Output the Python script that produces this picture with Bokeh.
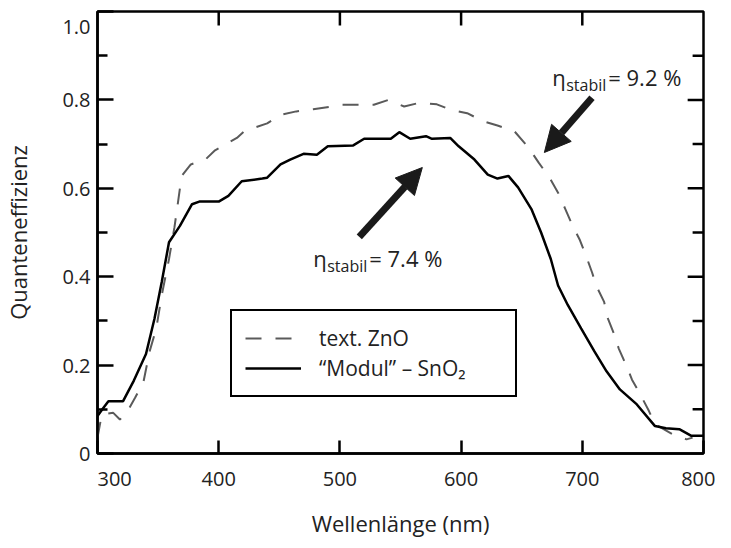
from bokeh.plotting import figure
from bokeh.models import Range1d, FixedTicker, Legend, LegendItem, Arrow, NormalHead
from bokeh.core.properties import value
from bokeh.embed import file_html
from bokeh.resources import INLINE

FONT = "Open Sans"
TXT = "#222222"

# "Modul" - SnO2 (solid)
wl_modul = [300, 304, 309, 321, 330, 340, 347, 353, 359, 368, 378, 384, 400, 408, 419, 436,
            440, 451, 459, 470, 481, 490, 511, 520, 542, 549, 558, 571, 576, 591, 598, 611,
            622, 630, 639, 647, 658, 666, 674, 680, 688, 699, 710, 720, 731, 745, 760, 769,
            780, 790, 800]
qe_modul = [0.085, 0.100, 0.118, 0.118, 0.165, 0.225, 0.305, 0.388, 0.478, 0.515, 0.564, 0.570,
            0.570, 0.583, 0.616, 0.622, 0.624, 0.654, 0.665, 0.678, 0.676, 0.695, 0.697, 0.712,
            0.712, 0.727, 0.712, 0.718, 0.712, 0.714, 0.695, 0.665, 0.631, 0.622, 0.628, 0.602,
            0.553, 0.500, 0.440, 0.380, 0.336, 0.283, 0.231, 0.186, 0.145, 0.111, 0.062, 0.057,
            0.055, 0.040, 0.040]

# text. ZnO (dashed)
wl_zno = [300, 303.5, 313, 318.5, 324, 331, 338, 343, 348.5, 353, 359, 363.5, 366, 368, 370,
          377, 389, 397, 415, 421, 440, 451, 464, 478, 491, 502, 528, 540, 553, 565, 580, 591,
          605, 618, 630, 644, 656, 664, 673, 680, 686, 692, 698, 703, 708, 712, 718, 721, 726,
          730, 736, 741, 748, 755, 760, 775, 786, 791]
qe_zno = [0.036, 0.088, 0.092, 0.077, 0.092, 0.126, 0.163, 0.231, 0.283, 0.358, 0.440, 0.512,
          0.560, 0.600, 0.630, 0.654, 0.665, 0.686, 0.714, 0.729, 0.747, 0.766, 0.774, 0.779,
          0.784, 0.789, 0.789, 0.800, 0.785, 0.793, 0.790, 0.778, 0.770, 0.752, 0.742, 0.729,
          0.691, 0.658, 0.624, 0.590, 0.553, 0.515, 0.483, 0.448, 0.410, 0.377, 0.343, 0.306,
          0.272, 0.238, 0.201, 0.167, 0.133, 0.096, 0.066, 0.043, 0.032, 0.036]

x_ticks = [300, 400, 500, 600, 700, 800]
x_tick_labels = ["\u2007\u2007\u2007300", "400", "500", "600", "700", "800"]
y_ticks = [0, 0.2, 0.4, 0.6, 0.8, 1.0]
y_minor = [0.1, 0.3, 0.5, 0.7, 0.9]
y_tick_labels = ["0", "0.2", "0.4", "0.6", "0.8", "\n1.0"]

X0, X1 = 300, 800
Y0, Y1 = 0, 1.0

ann_x = [675.2, 478.0]
ann_y = [0.852, 0.443]
ann_val = ["= 9.2 %", "= 7.4 %"]
arrow_start = [(708.0, 0.805), (516.0, 0.490)]
arrow_end = [(668.7, 0.681), (568.0, 0.647)]

W, H = 715, 540
BL, BR, BT, BB = 91, 12, 11, 84

p = figure(width=W, height=H, x_range=Range1d(X0, X1), y_range=Range1d(Y0, Y1),
           output_backend="svg", toolbar_location=None,
           min_border_left=BL, min_border_right=BR, min_border_top=BT, min_border_bottom=BB)
p.xgrid.visible = False
p.ygrid.visible = False
p.outline_line_color = "black"
p.outline_line_width = 2.5
p.outline_line_alpha = 1

for ax in (p.xaxis[0], p.yaxis[0]):
    ax.axis_line_color = "black"
    ax.axis_line_width = 2.5
    ax.major_tick_line_color = "black"
    ax.minor_tick_line_color = "black"
    ax.major_tick_line_width = 2.5
    ax.minor_tick_line_width = 2.5
    ax.major_tick_out = 0
    ax.minor_tick_out = 0
    ax.major_label_text_font = FONT
    ax.major_label_text_font_size = "20px"
    ax.major_label_text_color = TXT
    ax.axis_label_text_font = FONT
    ax.axis_label_text_font_size = "22px"
    ax.axis_label_text_font_style = "normal"
    ax.axis_label_text_color = TXT

xa = p.xaxis[0]
xa.ticker = FixedTicker(ticks=x_ticks, minor_ticks=[])
xa.major_tick_in = 13
xa.axis_label = "Wellenlänge (nm)"
xa.major_label_standoff = 11
xa.axis_label_standoff = 13
xa.major_label_overrides = {t: l for t, l in zip(x_ticks, x_tick_labels)}

ya = p.yaxis[0]
ya.ticker = FixedTicker(ticks=y_ticks, minor_ticks=y_minor)
ya.major_tick_in = 16
ya.minor_tick_in = 10
ya.axis_label = "Quanteneffizienz"
ya.major_label_standoff = 7
ya.axis_label_standoff = 26
ya.major_label_text_line_height = 0.45
ya.major_label_overrides = {t: l for t, l in zip(y_ticks, y_tick_labels)}

r_zno = p.line(wl_zno, qe_zno, line_color="#5a5a5a", line_width=2, line_dash="16 14")
r_mod = p.line(wl_modul, qe_modul, line_color="black", line_width=2.5)

# mirrored ticks on top and right edges, drawn from the tick arrays
FW, FH = W - BL - BR, H - BT - BB
px_x = (X1 - X0) / FW
px_y = (Y1 - Y0) / FH
for t in x_ticks[1:-1]:
    p.line([t, t], [Y1, Y1 - 14 * px_y], line_color="black", line_width=2.5)
for t in y_ticks[1:-1]:
    p.line([X1, X1 - 16 * px_x], [t, t], line_color="black", line_width=2.5)
for t in y_minor:
    p.line([X1, X1 - 11 * px_x], [t, t], line_color="black", line_width=2.5)

legend = Legend(items=[LegendItem(label="text. ZnO", renderers=[r_zno]),
                       LegendItem(label="“Modul” – SnO₂", renderers=[r_mod])],
                location=(133, 56), border_line_color="black", border_line_width=2,
                border_line_alpha=1,
                label_text_font=FONT, label_text_font_size="21px", label_text_color=TXT,
                glyph_width=56, glyph_height=26, spacing=2, padding=13, label_standoff=18,
                margin=0, label_width=183, background_fill_alpha=1)
p.add_layout(legend)

for (x0, y0), (x1, y1) in zip(arrow_start, arrow_end):
    p.add_layout(Arrow(end=NormalHead(size=26, fill_color="#1a1a1a", line_color="#1a1a1a"),
                       x_start=x0, y_start=y0, x_end=x1, y_end=y1,
                       line_width=7, line_color="#1a1a1a"))

p.text(x=ann_x, y=ann_y, text=["η", "η"], text_font=value(FONT), text_font_size="22px",
       text_color=TXT, text_baseline="alphabetic", text_align="left")
p.text(x=ann_x, y=ann_y, text=["stabil", "stabil"], x_offset=14, y_offset=8,
       text_font=value(FONT), text_font_size="16px", text_color=TXT,
       text_baseline="alphabetic", text_align="left")
p.text(x=ann_x, y=ann_y, text=ann_val, x_offset=56,
       text_font=value(FONT), text_font_size="22px", text_color=TXT,
       text_baseline="alphabetic", text_align="left")

open("out.html", "w").write(file_html(p, INLINE))
